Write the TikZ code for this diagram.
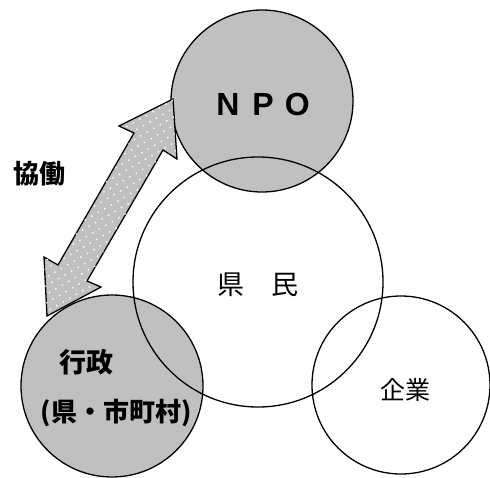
\documentclass[tikz,border=0pt]{standalone}
\usepackage{fontspec}
\setmainfont{Liberation Sans}
\newfontfamily\cjk{Noto Sans CJK JP}
\usetikzlibrary{patterns.meta}
\definecolor{fillgray}{RGB}{192,192,192}
\begin{document}
\begin{tikzpicture}[x=1pt,y=-1pt,line width=1.3pt,
  gcirc/.style={circle,draw=black,fill=fillgray,inner sep=0pt},
  wcirc/.style={circle,draw=black,inner sep=0pt},
  lbl/.style={font=\cjk\fontsize{#1}{#1}\selectfont,inner sep=0pt},
  blbl/.style={font=\cjk\bfseries\fontsize{#1}{#1}\selectfont,inner sep=0pt}]
\useasboundingbox (0,0) rectangle (490,477);
\node[gcirc,minimum size=182pt] (npo) at (262,101) {};
\node[gcirc,minimum size=182pt] (gyosei) at (112,386) {};
\node[wcirc,minimum size=250pt] (kenmin) at (258,282) {};
\node[wcirc,minimum size=178pt] (kigyo) at (401,385) {};
% double arrow
\filldraw[fill=fillgray,line join=miter,
  postaction={pattern={Dots[distance=7.5pt,radius=1pt,angle=30]},pattern color=white}]
  (173,99) -- (177,159) -- (163,150) -- (87,281) -- (101,287) -- (47,316)
  -- (44,257) -- (58,265) -- (134,133) -- (119,126) -- cycle;
% texts
\node[inner sep=0pt,font=\bfseries\fontsize{32}{32}\selectfont] (npot) at (263,104) {N\hspace{13pt}P\hspace{11pt}O};
\node[lbl=27] (kenmint) at (258,285) {県　民};
\node[lbl=25] (kigyot) at (405,390) {企業};
\node[blbl=27] (gyoseit) at (86,362) {行政};
\node[blbl=26] (gyoseit2) at (116,413) {(県・市町村)};
\node[blbl=26] (kyodo) at (39,174) {協働};
\end{tikzpicture}
\end{document}
